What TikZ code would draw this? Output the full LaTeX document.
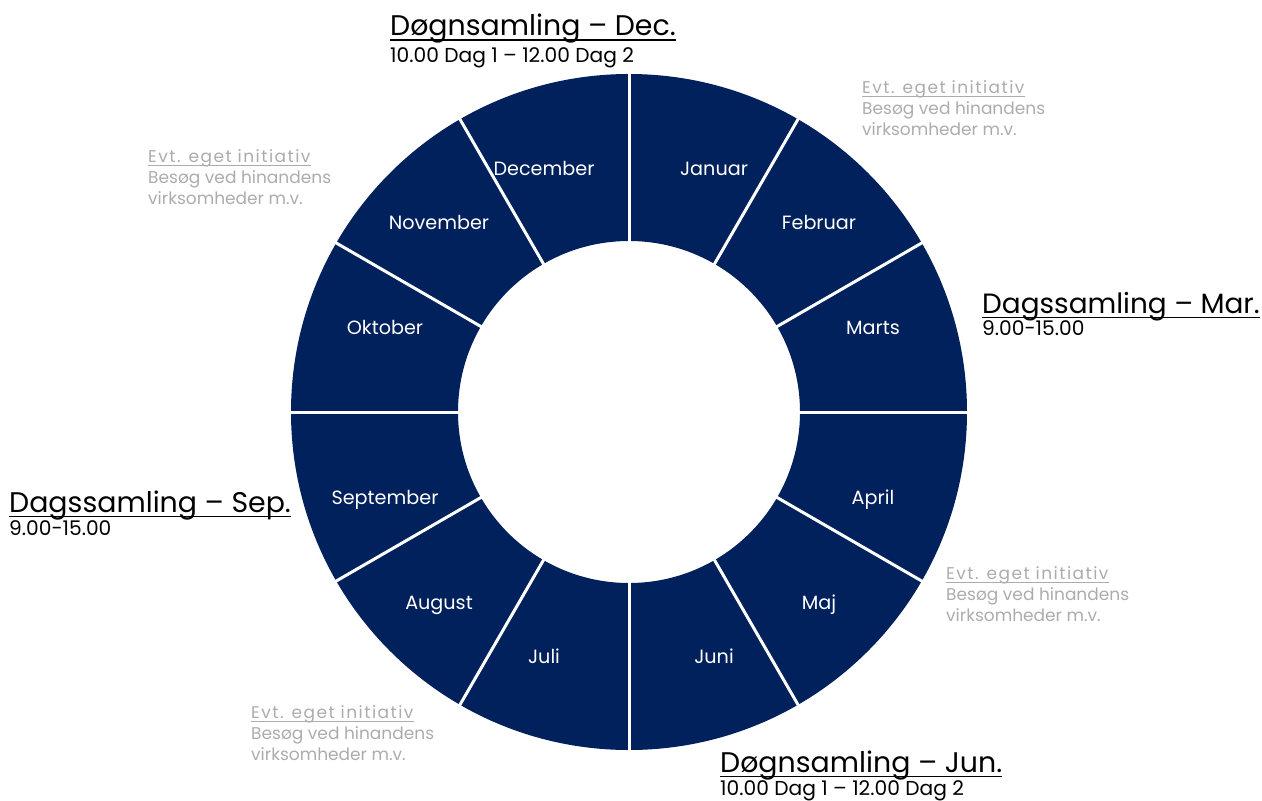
\documentclass[tikz,border=0pt]{standalone}
\usepackage{fontspec}
\setmainfont{Poppins}
\definecolor{navy}{RGB}{0,33,92}
\definecolor{lgray}{RGB}{172,172,172}
\begin{document}
\begin{tikzpicture}[x=1pt,y=1pt,
  month/.style={anchor=base, text=white, inner sep=0, font=\fontsize{19.2}{19.2}\selectfont},
  bigtitle/.style={anchor=base west, inner sep=0, font=\fontsize{28.4}{28.4}\selectfont, text=black},
  subtitle/.style={anchor=base west, inner sep=0, font=\fontsize{20.2}{20.2}\selectfont, text=black},
  gtitle/.style={anchor=base west, inner sep=0, font=\fontsize{17}{17}\selectfont\addfontfeature{LetterSpace=8.6}, text=lgray},
  gline/.style={anchor=base west, inner sep=0, font=\fontsize{17}{17}\selectfont, text=lgray},
  uline/.style={line width=1.5pt, black},
  guline/.style={line width=1pt, lgray},
  divider/.style={white, line width=3pt}]
\useasboundingbox (0,0) rectangle (1262,-801);
\coordinate (c) at (629,-412);
\fill[navy, even odd rule] (c) circle[radius=338] (c) circle[radius=171];
\foreach \a in {0,30,...,330} \draw[divider] (c) ++(\a:169) -- ++(\a:171);
% months
\node[month] (jan) at (714,-175) {Januar};
\node[month] (feb) at (819,-229) {Februar};
\node[month] (mar) at (873,-334) {Marts};
\node[month] (apr) at (873,-504) {April};
\node[month] (maj) at (819,-609) {Maj};
\node[month] (jun) at (714,-663) {Juni};
\node[month] (jul) at (544,-663) {Juli};
\node[month] (aug) at (439,-609) {August};
\node[month] (sep) at (385,-504) {September};
\node[month] (okt) at (385,-334) {Oktober};
\node[month] (nov) at (439,-229) {November};
\node[month] (dec) at (544,-175) {December};
% big titles
\node[bigtitle] (tdec) at (390,-35.5) {Døgnsamling – Dec.};
\draw[uline] ([yshift=-4.5]tdec.base west) -- ([yshift=-4.5]tdec.base east);
\node[subtitle] (sdec) at (390,-62.5) {10.00 Dag 1 – 12.00 Dag 2};
\node[bigtitle, font=\fontsize{27.9}{27.9}\selectfont] (tmar) at (982,-313) {Dagssamling – Mar.};
\draw[uline] ([yshift=-4.5]tmar.base west) -- ([yshift=-4.5]tmar.base east);
\node[subtitle] (smar) at (982,-335.5) {9.00-15.00};
\node[bigtitle] (tjun) at (720,-772) {Døgnsamling – Jun.};
\draw[uline] ([yshift=-4.5]tjun.base west) -- ([yshift=-4.5]tjun.base east);
\node[subtitle] (sjun) at (720,-795.5) {10.00 Dag 1 – 12.00 Dag 2};
\node[bigtitle] (tsep) at (9,-512) {Dagssamling – Sep.};
\draw[uline] ([yshift=-4.5]tsep.base west) -- ([yshift=-4.5]tsep.base east);
\node[subtitle] (ssep) at (9,-535) {9.00-15.00};
% gray notes
\node[gtitle] (g1) at (862,-93.3) {Evt. eget initiativ};
\draw[guline] ([yshift=-3.5]g1.base west) -- ([yshift=-3.5]g1.base east);
\node[gline] (g1b) at (862,-114.3) {Besøg ved hinandens};
\node[gline] (g1c) at (862,-135.3) {virksomheder m.v.};
\node[gtitle] (g2) at (946,-579.3) {Evt. eget initiativ};
\draw[guline] ([yshift=-3.5]g2.base west) -- ([yshift=-3.5]g2.base east);
\node[gline] (g2b) at (946,-600.3) {Besøg ved hinandens};
\node[gline] (g2c) at (946,-621.3) {virksomheder m.v.};
\node[gtitle] (g3) at (251,-718.3) {Evt. eget initiativ};
\draw[guline] ([yshift=-3.5]g3.base west) -- ([yshift=-3.5]g3.base east);
\node[gline] (g3b) at (251,-739.3) {Besøg ved hinandens};
\node[gline] (g3c) at (251,-760.3) {virksomheder m.v.};
\node[gtitle] (g4) at (148,-162.3) {Evt. eget initiativ};
\draw[guline] ([yshift=-3.5]g4.base west) -- ([yshift=-3.5]g4.base east);
\node[gline] (g4b) at (148,-183.3) {Besøg ved hinandens};
\node[gline] (g4c) at (148,-204.3) {virksomheder m.v.};
\end{tikzpicture}
\end{document}
